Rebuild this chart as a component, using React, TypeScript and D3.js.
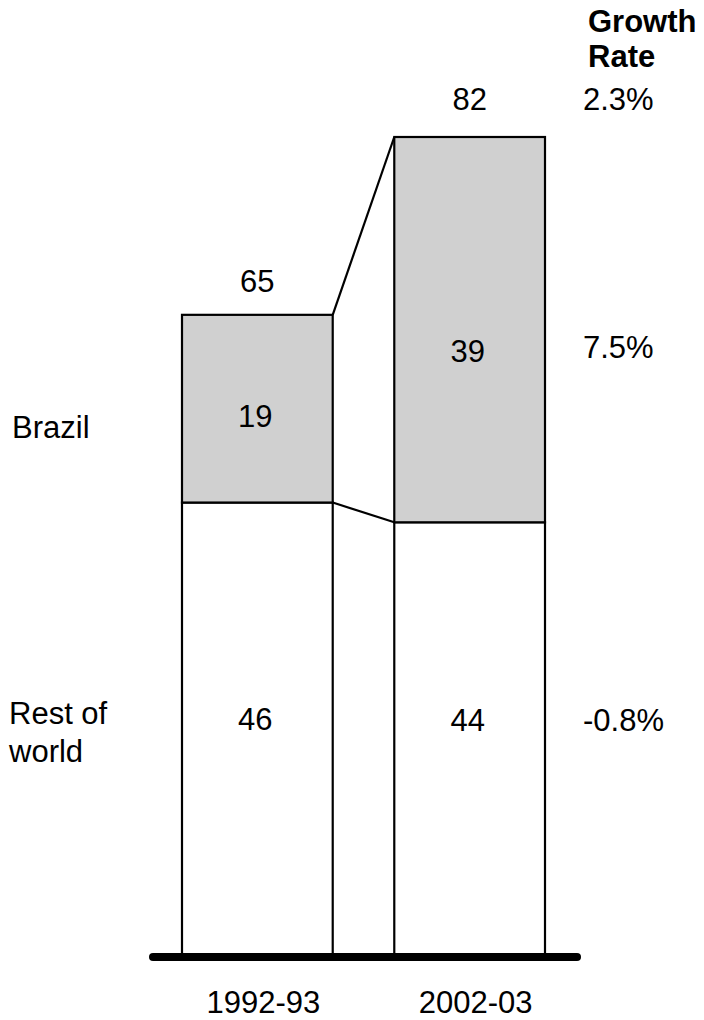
import React from "react";
import * as d3 from "d3";

// Periods on the x axis
const periods = ["1992-93", "2002-03"];
// Stack order: bottom segment first
const regions = ["Rest of world", "Brazil"];
// Segment values per period
const restOfWorld = [46, 44];
const brazil = [19, 39];
// Published totals shown above each bar
const totals = [65, 82];
// Growth rates between the two periods (total, Brazil, rest of world)
const growthTotal = "2.3%";
const growthBrazil = "7.5%";
const growthRest = "-0.8%";

const W = 704;
const H = 1020;
const FONT = "'Liberation Sans', Arial, Helvetica, sans-serif";
const FS = 31;

// Vertical nudge for the in-bar labels (cap-centre relative to segment centre)
const labelNudge: Record<string, number[]> = {
  Brazil: [7, 21],
  "Rest of world": [-11, -20],
};

export default function App() {
  const x = d3
    .scaleBand<string>()
    .domain(periods)
    .range([182, 545])
    .paddingInner(0.29)
    .paddingOuter(0);

  const y = d3.scaleLinear().domain([0, 83]).range([957, 137]);

  const rows = periods.map((p, i) => ({
    period: p,
    "Rest of world": restOfWorld[i],
    Brazil: brazil[i],
  }));
  const series = d3.stack<any>().keys(regions)(rows);

  const bw = x.bandwidth();
  const cx = (p: string) => (x(p) as number) + bw / 2;
  const capHalf = FS * 0.716 * 0.5;

  const segLabelY = (key: string, i: number) => {
    const s = series.find((d) => d.key === key)!;
    const [y0, y1] = s[i];
    return (y(y0) + y(y1)) / 2 + capHalf + labelNudge[key][i];
  };

  const rw = series.find((d) => d.key === "Rest of world")!;
  const br = series.find((d) => d.key === "Brazil")!;
  const p0 = periods[0];
  const p1 = periods[1];
  const right0 = (x(p0) as number) + bw;
  const left1 = x(p1) as number;

  const totalY = (i: number) => y(br[i][1]) - (i === 0 ? 23 : 27);
  const growthX = 583;

  return (
    <svg
      width={W}
      height={H}
      style={{ position: "absolute", left: 0, top: 0, background: "#fff" }}
      fontFamily={FONT}
      fontSize={FS}
    >
      <rect width={W} height={H} fill="#fff" />

      {/* stacked bars */}
      {series.map((s) =>
        s.map((d, i) => (
          <rect
            key={s.key + i}
            x={x(periods[i])}
            y={y(d[1])}
            width={bw}
            height={y(d[0]) - y(d[1])}
            fill={s.key === "Brazil" ? "#d0d0d0" : "#ffffff"}
            stroke="#000"
            strokeWidth={2.2}
          />
        ))
      )}

      {/* connector lines between bars */}
      <line
        x1={right0}
        y1={y(br[0][1])}
        x2={left1}
        y2={y(br[1][1])}
        stroke="#000"
        strokeWidth={2.2}
      />
      <line
        x1={right0}
        y1={y(rw[0][1])}
        x2={left1}
        y2={y(rw[1][1])}
        stroke="#000"
        strokeWidth={2.2}
      />

      {/* baseline */}
      <line
        x1={153}
        x2={577}
        y1={y(0)}
        y2={y(0)}
        stroke="#000"
        strokeWidth={8}
        strokeLinecap="round"
      />

      {/* totals */}
      {periods.map((p, i) => (
        <text key={"t" + p} x={cx(p)} y={totalY(i)} textAnchor="middle">
          {totals[i]}
        </text>
      ))}

      {/* segment labels */}
      {regions.map((key) =>
        periods.map((p, i) => (
          <text
            key={key + p}
            x={cx(p) - 2}
            y={segLabelY(key, i)}
            textAnchor="middle"
          >
            {key === "Brazil" ? brazil[i] : restOfWorld[i]}
          </text>
        ))
      )}

      {/* x axis labels */}
      {periods.map((p) => (
        <text key={"x" + p} x={cx(p) + 6} y={1013} textAnchor="middle">
          {p}
        </text>
      ))}

      {/* row labels */}
      <text x={12} y={438}>
        Brazil
      </text>
      <text x={9} y={724}>
        Rest of
      </text>
      <text x={9} y={762}>
        world
      </text>

      {/* growth rate column */}
      <text x={588} y={32} fontWeight="bold">
        Growth
      </text>
      <text x={588} y={67} fontWeight="bold">
        Rate
      </text>
      <text x={growthX} y={totalY(1)}>
        {growthTotal}
      </text>
      <text x={growthX} y={segLabelY("Brazil", 1) - 4}>
        {growthBrazil}
      </text>
      <text x={growthX} y={segLabelY("Rest of world", 1)}>
        {growthRest}
      </text>
    </svg>
  );
}
